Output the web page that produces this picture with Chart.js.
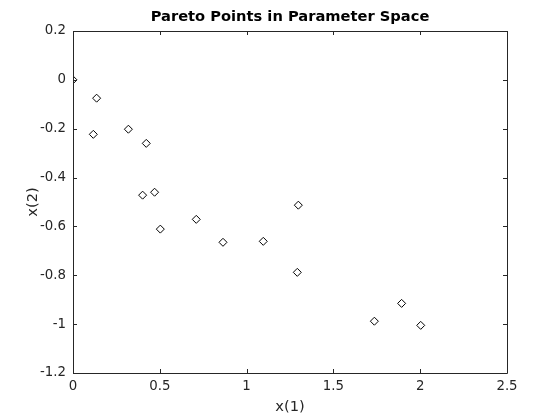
<!DOCTYPE html>
<html>
<head>
<meta charset="utf-8">
<script src="https://cdn.jsdelivr.net/npm/chart.js@4/dist/chart.umd.min.js"></script>
<style>
html,body{margin:0;padding:0;background:#fff;}
#wrap{width:560px;height:420px;position:relative;}
</style>
</head>
<body>
<div id="wrap"><canvas id="c" width="560" height="420"></canvas></div>
<script>
const chartTitle = 'Pareto Points in Parameter Space';
const xLabel = 'x(1)';
const yLabel = 'x(2)';
const x1 = [0.00, 0.136, 0.117, 0.319, 0.422, 0.401, 0.470, 0.503, 0.710, 0.864, 1.096, 1.298, 1.292, 1.736, 1.893, 2.003];
const x2 = [0.00, -0.075, -0.223, -0.202, -0.260, -0.472, -0.460, -0.611, -0.571, -0.665, -0.661, -0.513, -0.788, -0.988, -0.915, -1.005];
const xTicks = [0, 0.5, 1, 1.5, 2, 2.5];
const yTicks = [0.2, 0, -0.2, -0.4, -0.6, -0.8, -1, -1.2];
const xTickLabels = ['0', '0.5', '1', '1.5', '2', '2.5'];
const yTickLabels = ['0.2', '0', '-0.2', '-0.4', '-0.6', '-0.8', '-1', '-1.2'];

const points = x1.map((v, i) => ({x: v, y: x2[i]}));
const axisColor = '#262626';
const FONT = 'DejaVu Sans';

const boxPlugin = {
  id: 'box',
  afterDatasetsDraw(chart) {
    const {ctx, chartArea: a, scales} = chart;
    ctx.save();
    ctx.strokeStyle = axisColor;
    ctx.lineWidth = 1;
    ctx.beginPath();
    ctx.rect(Math.round(a.left) + 0.5, Math.round(a.top) + 0.5, Math.round(a.right - a.left), Math.round(a.bottom - a.top));
    const tl = 4;
    xTicks.forEach(v => {
      const px = Math.round(scales.x.getPixelForValue(v)) + 0.5;
      ctx.moveTo(px, a.bottom); ctx.lineTo(px, a.bottom - tl);
      ctx.moveTo(px, a.top); ctx.lineTo(px, a.top + tl);
    });
    yTicks.forEach(v => {
      const py = Math.round(scales.y.getPixelForValue(v)) + 0.5;
      ctx.moveTo(a.left, py); ctx.lineTo(a.left + tl, py);
      ctx.moveTo(a.right, py); ctx.lineTo(a.right - tl, py);
    });
    ctx.stroke();
    ctx.restore();
  }
};

new Chart(document.getElementById('c'), {
  type: 'scatter',
  data: {
    datasets: [{
      data: points,
      pointStyle: 'rectRot',
      pointRadius: 4,
      pointHoverRadius: 4,
      borderColor: '#000',
      backgroundColor: 'rgba(0,0,0,0)',
      borderWidth: 1
    }]
  },
  options: {
    responsive: false,
    animation: false,
    devicePixelRatio: 1,
    layout: {padding: {left: 0, right: 53, top: 0, bottom: 0}},
    plugins: {
      legend: {display: false},
      tooltip: {enabled: false},
      title: {
        display: true,
        fullSize: false,
        text: chartTitle,
        color: '#000',
        font: {family: FONT, size: 14.67, weight: 'bold', lineHeight: 1.2},
        padding: {top: 8.5, bottom: 4.9}
      }
    },
    scales: {
      x: {
        type: 'linear',
        min: 0, max: 2.5,
        afterBuildTicks: s => { s.ticks = xTicks.map(v => ({value: v})); },
        afterFit: s => { s.height = 47; },
        grid: {display: false, drawTicks: false},
        border: {display: false},
        ticks: {
          color: axisColor, padding: 6, maxRotation: 0,
          font: {family: FONT, size: 13.33},
          callback: (v) => { const i = xTicks.indexOf(v); return i >= 0 ? xTickLabels[i] : ''; }
        },
        title: {display: true, text: xLabel, color: axisColor, font: {family: FONT, size: 14.67, lineHeight: 1.2}, padding: {top: 0, bottom: 4}}
      },
      y: {
        type: 'linear',
        min: -1.2, max: 0.2,
        afterBuildTicks: s => { s.ticks = yTicks.map(v => ({value: v})); },
        afterFit: s => { s.width = 73; },
        grid: {display: false, drawTicks: false},
        border: {display: false},
        ticks: {
          color: axisColor, padding: 7,
          font: {family: FONT, size: 13.33},
          callback: (v) => { const i = yTicks.findIndex(t => Math.abs(t - v) < 1e-9); return i >= 0 ? yTickLabels[i] : ''; }
        },
        title: {display: true, text: yLabel, color: axisColor, font: {family: FONT, size: 14.67, lineHeight: 1.2}, padding: {top: 24.5, bottom: 0}}
      }
    }
  },
  plugins: [boxPlugin]
});
</script>
</body>
</html>
